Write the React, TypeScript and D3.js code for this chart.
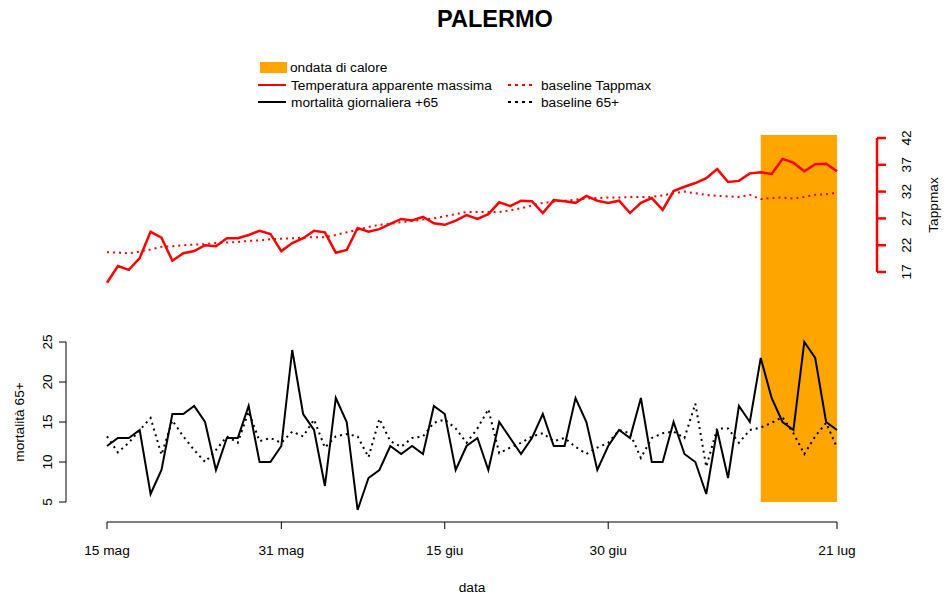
import { useEffect, useRef } from 'react'
import * as d3 from 'd3'

// 15 May .. 21 Jul (68 days)
const tappmax = [15, 18.1, 17.4, 19.6, 24.5, 23.4, 19.1, 20.5, 20.9, 22, 21.8, 23.3, 23.3, 23.9, 24.7, 24.1, 20.9, 22.4, 23.3, 24.7, 24.4, 20.6, 21.1, 25.2, 24.5, 25, 26, 26.9, 26.6, 27.3, 26.1, 25.8, 26.6, 27.6, 26.9, 27.8, 30, 29.3, 30.3, 30.2, 28, 30.4, 30.2, 29.9, 31.2, 30.3, 29.9, 30.3, 28, 29.9, 30.8, 28.6, 32.1, 32.9, 33.6, 34.5, 36.2, 33.8, 34, 35.4, 35.6, 35.3, 38.1, 37.4, 35.8, 37.1, 37.2, 35.8]
const baseTapp = [20.7, 20.6, 20.5, 20.8, 21.2, 21.7, 21.8, 22, 22.1, 22.2, 22.4, 22.5, 22.6, 22.8, 22.9, 23.1, 23.2, 23.3, 23.4, 23.5, 23.5, 23.9, 24.4, 24.9, 25.4, 25.8, 26, 26.3, 26.5, 26.8, 27, 27.4, 27.8, 28.2, 28.2, 28.2, 28.2, 28.5, 28.9, 29.4, 29.9, 30.1, 30.3, 30.5, 30.7, 30.8, 30.9, 30.9, 31, 31, 31, 31.3, 31.7, 32, 31.7, 31.4, 31.2, 31.1, 31, 31.4, 30.6, 30.8, 30.9, 30.7, 31, 31.4, 31.5, 31.8]
const mort = [12, 13, 13, 14, 6, 9, 16, 16, 17, 15, 9, 13, 13, 17, 10, 10, 12, 24, 16, 14, 7, 18, 15, 4, 8, 9, 12, 11, 12, 11, 17, 16, 9, 12, 13, 9, 15, 13, 11, 13, 16, 12, 12, 18, 15, 9, 12, 14, 13, 18, 10, 10, 15, 11, 10, 6, 14, 8, 17, 15, 23, 18, 15, 14, 25, 23, 15, 14]
const baseMort = [13.2, 11.2, 12.4, 14, 15.5, 10.9, 15.2, 13.2, 11.5, 10, 11.5, 13.2, 12.4, 16.3, 12.6, 13, 12.4, 13.8, 13.2, 15.3, 11.8, 13.2, 13.5, 13.2, 10.6, 15.4, 12.6, 11.9, 13, 13.2, 14.9, 15.3, 14.2, 12.4, 14.2, 16.6, 11.1, 11.8, 12.4, 13.2, 13.6, 12.6, 13, 11.9, 11, 11.8, 12.4, 14, 13.6, 10.5, 13, 13.6, 13.8, 13, 17.3, 9.4, 14.2, 14.2, 12.4, 14, 14.3, 14.9, 15.6, 13.6, 11, 13.2, 14.9, 11.8]
const xTicks = [{ i: 0, l: '15 mag' }, { i: 16, l: '31 mag' }, { i: 31, l: '15 giu' }, { i: 46, l: '30 giu' }, { i: 67, l: '21 lug' }]
const mortTicks = [5, 10, 15, 20, 25]
const tappTicks = [17, 22, 27, 32, 37, 42]
const heatStart = 60, heatEnd = 67

export default function App() {
  const ref = useRef<SVGSVGElement>(null)
  useEffect(() => {
    const svg = d3.select(ref.current)
    svg.selectAll('*').remove()
    const font = 'Liberation Sans, Arial, sans-serif'
    const fs = 13.7
    const x = d3.scaleLinear().domain([0, 67]).range([107, 837])
    const yM = d3.scaleLinear().domain([5, 25]).range([502, 342])
    const yT = d3.scaleLinear().domain([17, 42]).range([272, 138])

    svg.append('rect').attr('x', x(heatStart)).attr('width', x(heatEnd) - x(heatStart))
      .attr('y', 135).attr('height', 502 - 135).attr('fill', '#FFA500')

    const line = (sc: d3.ScaleLinear<number, number>) => d3.line<number>().x((_, i) => x(i)).y(d => sc(d))
    const draw = (data: number[], sc: any, color: string, dash: string | null, w: number) =>
      svg.append('path').datum(data).attr('fill', 'none').attr('stroke', color)
        .attr('stroke-width', w).attr('stroke-dasharray', dash).attr('d', line(sc))
    draw(baseTapp, yT, '#ff0000', '2,4', 2)
    draw(tappmax, yT, '#ff0000', null, 2.5)
    draw(baseMort, yM, '#000', '2,4', 2)
    draw(mort, yM, '#000', null, 2)

    // bottom axis
    const bx = svg.append('g').attr('font-family', font).attr('font-size', fs)
    bx.append('line').attr('x1', x(0)).attr('x2', x(67)).attr('y1', 522).attr('y2', 522).attr('stroke', '#000')
    xTicks.forEach(t => {
      bx.append('line').attr('x1', x(t.i)).attr('x2', x(t.i)).attr('y1', 522).attr('y2', 529).attr('stroke', '#000')
      bx.append('text').attr('x', x(t.i)).attr('y', 555).attr('text-anchor', 'middle').text(t.l)
    })
    bx.append('text').attr('x', 472).attr('y', 592).attr('text-anchor', 'middle').text('data')

    // left axis
    const lx = svg.append('g').attr('font-family', font).attr('font-size', fs)
    lx.append('line').attr('x1', 66).attr('x2', 66).attr('y1', yM(5)).attr('y2', yM(25)).attr('stroke', '#000')
    mortTicks.forEach(t => {
      lx.append('line').attr('x1', 59).attr('x2', 66).attr('y1', yM(t)).attr('y2', yM(t)).attr('stroke', '#000')
      lx.append('text').attr('transform', `translate(52,${yM(t)}) rotate(-90)`).attr('text-anchor', 'middle').text(t)
    })
    lx.append('text').attr('transform', `translate(24,422) rotate(-90)`).attr('text-anchor', 'middle').text('mortalità 65+')

    // right axis
    const rx = svg.append('g').attr('font-family', font).attr('font-size', fs)
    rx.append('line').attr('x1', 877).attr('x2', 877).attr('y1', yT(17)).attr('y2', yT(42)).attr('stroke', '#ff0000').attr('stroke-width', 2.5)
    tappTicks.forEach(t => {
      rx.append('line').attr('x1', 877).attr('x2', 886).attr('y1', yT(t)).attr('y2', yT(t)).attr('stroke', '#ff0000').attr('stroke-width', 2.5)
      rx.append('text').attr('transform', `translate(911,${yT(t)}) rotate(-90)`).attr('text-anchor', 'middle').text(t)
    })
    rx.append('text').attr('transform', `translate(938,205) rotate(-90)`).attr('text-anchor', 'middle').text('Tappmax')

    svg.append('text').attr('x', 495).attr('y', 27).attr('text-anchor', 'middle')
      .attr('font-family', font).attr('font-size', 23.5).attr('font-weight', 'bold').text('PALERMO')

    // legend
    const lg = svg.append('g').attr('font-family', font).attr('font-size', fs)
    lg.append('rect').attr('x', 260).attr('y', 62).attr('width', 27).attr('height', 11).attr('fill', '#FFA500')
    lg.append('text').attr('x', 290).attr('y', 72).text('ondata di calore')
    const items = [
      { x: 258, y: 85, c: '#ff0000', d: null, t: 'Temperatura apparente massima' },
      { x: 258, y: 102, c: '#000', d: null, t: 'mortalità giornaliera +65' },
      { x: 508, y: 85, c: '#ff0000', d: '3,4', t: 'baseline Tappmax' },
      { x: 508, y: 102, c: '#000', d: '3,4', t: 'baseline 65+' },
    ]
    items.forEach(it => {
      lg.append('line').attr('x1', it.x).attr('x2', it.x + 28).attr('y1', it.y).attr('y2', it.y)
        .attr('stroke', it.c).attr('stroke-width', 2).attr('stroke-dasharray', it.d)
      lg.append('text').attr('x', it.x + 33).attr('y', it.y + 5).text(it.t)
    })
  }, [])
  return <svg ref={ref} width={947} height={599} style={{ position: 'absolute', left: 0, top: 0, background: '#fff' }} />
}
